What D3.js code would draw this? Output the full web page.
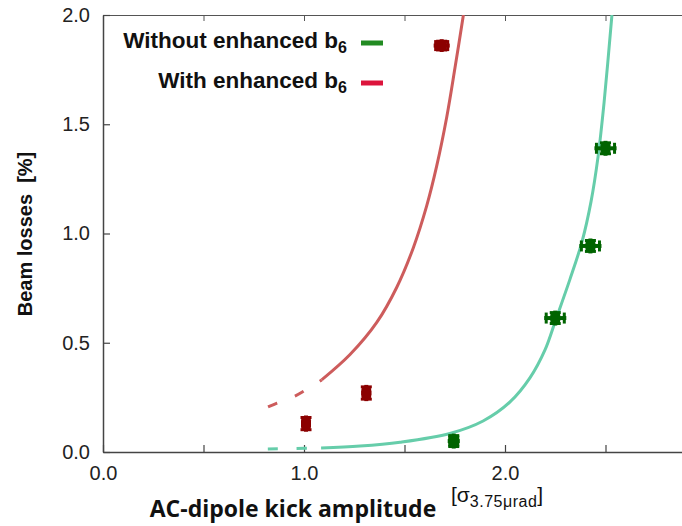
<!DOCTYPE html>
<html>
<head>
<meta charset="utf-8">
<script src="https://cdn.jsdelivr.net/npm/d3@7"></script>
<style>
  body { margin: 0; background: #fff; }
  svg { display: block; }
</style>
</head>
<body>
<div id="chart-container"></div>
<script>
// Measured points (with error bars)
const greenX = [1.745, 2.25, 2.425, 2.5];
const greenY = [0.05, 0.613, 0.943, 1.39];
const greenXErr = [0.02, 0.045, 0.045, 0.045];
const greenYErr = [0.025, 0.025, 0.025, 0.025];

const redX = [1.01, 1.31, 1.685];
const redY = [0.13, 0.27, 1.86];
const redXErr = [0.015, 0.015, 0.03];
const redYErr = [0.028, 0.028, 0.02];

// Fitted curves (dashed part first, then solid part)
const tealDashX = [0.82, 0.95, 1.085];
const tealDashY = [0.014, 0.016, 0.018];
const tealX = [1.085, 1.279, 1.478, 1.726, 1.891, 2.025, 2.124, 2.199, 2.254, 2.323, 2.383, 2.428, 2.463, 2.493, 2.532];
const tealY = [0.018, 0.027, 0.045, 0.085, 0.142, 0.229, 0.339, 0.467, 0.609, 0.79, 0.962, 1.146, 1.352, 1.6, 2.0];

const redDashX = [0.821, 0.866, 0.955, 1.0, 1.088];
const redDashY = [0.206, 0.224, 0.256, 0.279, 0.33];
const redCurveX = [1.088, 1.229, 1.362, 1.461, 1.544, 1.61, 1.66, 1.71, 1.751, 1.793];
const redCurveY = [0.33, 0.446, 0.593, 0.753, 0.935, 1.125, 1.308, 1.532, 1.757, 2.0];

const xTickValues = [0, 0.5, 1, 1.5, 2, 2.5];
const xTickLabels = ["0.0", "", "1.0", "", "2.0", ""];
const yTickValues = [0, 0.5, 1, 1.5, 2];
const yTickLabels = ["0.0", "0.5", "1.0", "1.5", "2.0"];

const legendLabels = ["Without enhanced b", "With enhanced b"];
const legendColors = ["#228b22", "#dc143c"];

// Dimensions
const W = 682, H = 526;
const plotLeft = 103, plotRight = 682, plotTop = 15, plotBottom = 452;

const svg = d3
  .select("#chart-container")
  .append("svg")
  .attr("width", W)
  .attr("height", H);

// Scales
const xScale = d3.scaleLinear().domain([0, (plotRight - plotLeft) / 201]).range([plotLeft, plotRight]);
const yScale = d3.scaleLinear().domain([0, 2]).range([plotBottom, plotTop]);

// Clip region
svg.append("defs").append("clipPath").attr("id", "clip")
  .append("rect")
  .attr("x", plotLeft).attr("y", plotTop)
  .attr("width", plotRight - plotLeft).attr("height", plotBottom - plotTop);

// Bottom axis, ticks pointing inward
const xAxis = svg.append("g")
  .attr("transform", `translate(0,${plotBottom})`)
  .call(d3.axisBottom(xScale).tickValues(xTickValues).tickSizeInner(-7).tickSizeOuter(0)
    .tickFormat((d, i) => xTickLabels[i]));
xAxis.select(".domain").attr("stroke", "#444").attr("stroke-width", 1.5);
xAxis.selectAll(".tick line").attr("stroke", "#444").attr("stroke-width", 1.2);
xAxis.selectAll(".tick text")
  .attr("y", 14)
  .attr("fill", "#222")
  .style("font-family", "Liberation Sans, Arial, sans-serif")
  .style("font-size", "20px");

// Top border with mirrored ticks
const xAxisTop = svg.append("g")
  .attr("transform", `translate(0,${plotTop})`)
  .call(d3.axisTop(xScale).tickValues(xTickValues).tickSizeInner(-6).tickSizeOuter(0).tickFormat(""));
xAxisTop.select(".domain").attr("stroke", "#555").attr("stroke-width", 1.2);
xAxisTop.selectAll(".tick line").attr("stroke", "#555");

// Left axis
const yAxis = svg.append("g")
  .attr("transform", `translate(${plotLeft},0)`)
  .call(d3.axisLeft(yScale).tickValues(yTickValues).tickSizeInner(-7).tickSizeOuter(0)
    .tickFormat((d, i) => yTickLabels[i]));
yAxis.select(".domain").attr("stroke", "#444").attr("stroke-width", 1.5);
yAxis.selectAll(".tick line").attr("stroke", "#444").attr("stroke-width", 1.2);
yAxis.selectAll(".tick text")
  .attr("x", -13)
  .attr("fill", "#222")
  .style("font-family", "Liberation Sans, Arial, sans-serif")
  .style("font-size", "20px");

// Curves
const line = d3.line()
  .x((d) => xScale(d[0]))
  .y((d) => yScale(d[1]))
  .curve(d3.curveCatmullRom.alpha(0.5));

const curves = svg.append("g").attr("clip-path", "url(#clip)");

function addCurve(xs, ys, color, dash) {
  curves.append("path")
    .datum(d3.zip(xs, ys))
    .attr("fill", "none")
    .attr("stroke", color)
    .attr("stroke-width", 3)
    .attr("stroke-dasharray", dash)
    .attr("d", line);
}
addCurve(tealDashX, tealDashY, "#66cdaa", "10,19");
addCurve(tealX, tealY, "#66cdaa", null);
addCurve(redDashX, redDashY, "#cd5c5c", "10,19");
addCurve(redCurveX, redCurveY, "#cd5c5c", null);

// Error bar markers
function addPoints(xs, ys, xe, ye, color) {
  const g = svg.append("g");
  xs.forEach((x, i) => {
    const cx = xScale(x), cy = yScale(ys[i]);
    const x0 = xScale(x - xe[i]), x1 = xScale(x + xe[i]);
    const y0 = yScale(ys[i] + ye[i]), y1 = yScale(ys[i] - ye[i]);
    const p = g.append("g").attr("stroke", color).attr("stroke-linecap", "square");
    p.append("line").attr("x1", x0).attr("x2", x1).attr("y1", cy).attr("y2", cy).attr("stroke-width", 4);
    p.append("line").attr("x1", cx).attr("x2", cx).attr("y1", y0).attr("y2", y1).attr("stroke-width", 4);
    // caps
    p.append("line").attr("x1", x0).attr("x2", x0).attr("y1", cy - 4).attr("y2", cy + 4).attr("stroke-width", 3);
    p.append("line").attr("x1", x1).attr("x2", x1).attr("y1", cy - 4).attr("y2", cy + 4).attr("stroke-width", 3);
    p.append("line").attr("x1", cx - 4).attr("x2", cx + 4).attr("y1", y0).attr("y2", y0).attr("stroke-width", 3);
    p.append("line").attr("x1", cx - 4).attr("x2", cx + 4).attr("y1", y1).attr("y2", y1).attr("stroke-width", 3);
    g.append("rect")
      .attr("x", cx - 5).attr("y", cy - 5)
      .attr("width", 10).attr("height", 10)
      .attr("rx", 2)
      .attr("fill", color);
  });
}
addPoints(redX, redY, redXErr, redYErr, "#8b0000");
addPoints(greenX, greenY, greenXErr, greenYErr, "#006400");

// Legend
const legend = svg.append("g")
  .style("font-family", "Liberation Sans, Arial, sans-serif")
  .style("font-weight", "bold")
  .attr("fill", "#111");
const legendY = [48, 88];
legendLabels.forEach((lab, i) => {
  const t = legend.append("text")
    .attr("x", 347)
    .attr("y", legendY[i])
    .attr("text-anchor", "end")
    .style("font-size", "22.5px");
  t.append("tspan").text(lab);
  t.append("tspan").attr("dy", 5).style("font-size", "16px").text("6");
  legend.append("line")
    .attr("x1", 361).attr("x2", 383)
    .attr("y1", legendY[i] - 5).attr("y2", legendY[i] - 5)
    .attr("stroke", legendColors[i])
    .attr("stroke-width", 5);
});

// Axis titles
svg.append("text")
  .attr("transform", "translate(32,234) rotate(-90)")
  .attr("text-anchor", "middle")
  .attr("fill", "#111")
  .style("font-family", "Liberation Sans, Arial, sans-serif")
  .style("font-weight", "bold")
  .style("font-size", "20px")
  .text("Beam losses \u00a0[%]");

svg.append("text")
  .attr("x", 293)
  .attr("y", 517)
  .attr("text-anchor", "middle")
  .attr("fill", "#111")
  .style("font-family", "Open Sans, sans-serif")
  .style("font-weight", "bold")
  .style("font-size", "23px")
  .text("AC-dipole kick amplitude");

const unit = svg.append("text")
  .attr("x", 451)
  .attr("y", 502)
  .attr("fill", "#111")
  .style("font-family", "Liberation Sans, Arial, sans-serif")
  .style("font-size", "21px");
unit.append("tspan").text("[σ");
unit.append("tspan").attr("dy", 5).style("font-size", "16px").style("letter-spacing", "0.5px").text("3.75μrad");
unit.append("tspan").attr("dy", -5).text("]");
</script>
</body>
</html>
